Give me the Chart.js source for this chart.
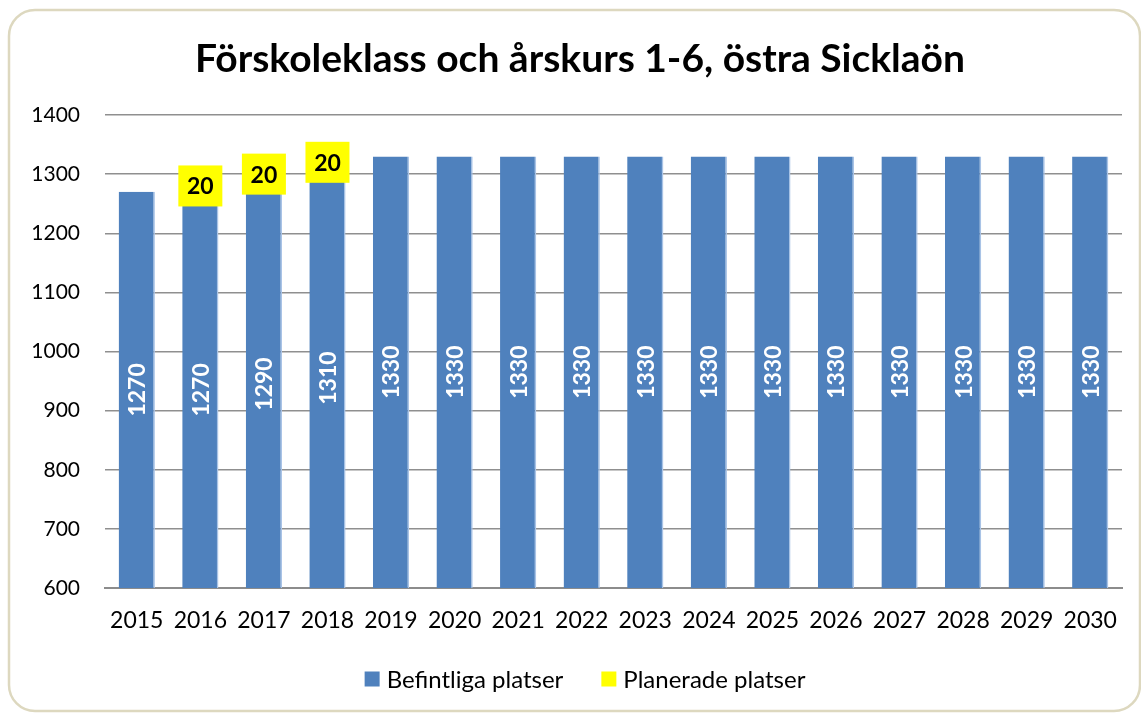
<!DOCTYPE html>
<html>
<head>
<meta charset="utf-8">
<script src="https://cdn.jsdelivr.net/npm/chart.js@4/dist/chart.umd.min.js"></script>
<style>
  html, body { margin: 0; padding: 0; background: #ffffff; }
  #wrap { width: 1141px; height: 713px; position: relative; }
</style>
</head>
<body>
<div id="wrap"><canvas id="c" width="1141" height="713"></canvas></div>
<script>
const years = ['2015','2016','2017','2018','2019','2020','2021','2022','2023','2024','2025','2026','2027','2028','2029','2030'];
const befintliga = [1270,1270,1290,1310,1330,1330,1330,1330,1330,1330,1330,1330,1330,1330,1330,1330];
const planerade = [null,20,20,20,null,null,null,null,null,null,null,null,null,null,null,null];
const titleText = 'Förskoleklass och årskurs 1-6, östra Sicklaön';
const seriesNames = ['Befintliga platser','Planerade platser'];
const seriesColors = ['#4f81bd','#ffff00'];

const FONT = 'Lato, "Open Sans", sans-serif';

const frame = {
  id: 'frame',
  beforeDraw(chart) {
    const ctx = chart.ctx;
    ctx.save();
    ctx.fillStyle = '#ffffff';
    ctx.fillRect(0, 0, chart.width, chart.height);
    ctx.strokeStyle = '#ddd8bf';
    ctx.lineWidth = 2.5;
    ctx.beginPath();
    ctx.roundRect(9, 10, 1131, 701, 26);
    ctx.stroke();
    ctx.restore();
  },
  afterDraw(chart) {
    const ctx = chart.ctx;
    ctx.save();
    // title
    ctx.font = 'bold 39px ' + FONT;
    ctx.fillStyle = '#000000';
    ctx.textAlign = 'center';
    ctx.textBaseline = 'middle';
    ctx.fillText(titleText, 580, 59);
    // legend
    ctx.font = '24px ' + FONT;
    ctx.textAlign = 'left';
    const box = 15, gapText = 7, gapItem = 38;
    const widths = seriesNames.map(n => ctx.measureText(n).width);
    let total = 0;
    widths.forEach((w, i) => { total += box + gapText + w + (i < widths.length - 1 ? gapItem : 0); });
    let x = 585 - total / 2;
    const cy = 679;
    seriesNames.forEach((n, i) => {
      ctx.fillStyle = seriesColors[i];
      ctx.fillRect(x, cy - box / 2, box, box);
      ctx.fillStyle = '#000000';
      ctx.fillText(n, x + box + gapText, cy + 1);
      x += box + gapText + widths[i] + gapItem;
    });
    ctx.restore();
  }
};

const valueLabels = {
  id: 'valueLabels',
  afterDatasetsDraw(chart) {
    const ctx = chart.ctx;
    const bottom = chart.chartArea.bottom;
    const m0 = chart.getDatasetMeta(0);
    m0.data.forEach((el, i) => {
      const v = befintliga[i];
      if (v == null) return;
      const cy = (el.y + Math.min(el.base, bottom)) / 2;
      ctx.save();
      ctx.translate(el.x, cy);
      ctx.rotate(-Math.PI / 2);
      ctx.font = 'bold 23px ' + FONT;
      ctx.fillStyle = '#ffffff';
      ctx.textAlign = 'center';
      ctx.textBaseline = 'middle';
      ctx.fillText(String(v), 0, 1);
      ctx.restore();
    });
    const m1 = chart.getDatasetMeta(1);
    m1.data.forEach((el, i) => {
      const v = planerade[i];
      if (!v) return;
      const cy = (el.y + el.base) / 2;
      ctx.save();
      ctx.fillStyle = '#ffff00';
      ctx.fillRect(el.x - 22, cy - 20.5, 44, 41);
      ctx.font = 'bold 23px ' + FONT;
      ctx.fillStyle = '#000000';
      ctx.textAlign = 'center';
      ctx.textBaseline = 'middle';
      ctx.fillText(String(v), el.x, cy + 1);
      ctx.restore();
    });
  }
};

new Chart(document.getElementById('c'), {
  type: 'bar',
  data: {
    labels: years,
    datasets: [
      {
        label: seriesNames[0],
        data: befintliga,
        backgroundColor: seriesColors[0],
        borderColor: '#a9c3e6',
        borderWidth: { left: 0, top: 0, bottom: 0, right: 1.5 },
        borderSkipped: false,
        barPercentage: 0.57,
        categoryPercentage: 1.0
      },
      {
        label: seriesNames[1],
        data: planerade,
        backgroundColor: seriesColors[1],
        borderWidth: 0,
        barPercentage: 0.57,
        categoryPercentage: 1.0
      }
    ]
  },
  options: {
    responsive: false,
    animation: false,
    devicePixelRatio: 1,
    layout: { padding: { left: 10, right: 19, top: 115, bottom: 75 } },
    plugins: {
      title: { display: false },
      legend: { display: false },
      tooltip: { enabled: false }
    },
    scales: {
      x: {
        stacked: true,
        grid: { display: false, drawTicks: false },
        border: { display: true, color: '#8c8c8c', width: 2 },
        ticks: { color: '#000000', font: { family: FONT, size: 23 }, padding: 19, maxRotation: 0, autoSkip: false },
        afterFit(scale) { scale.height = 50; }
      },
      y: {
        stacked: true,
        min: 600,
        max: 1400,
        grid: { color: '#8f8f8f', lineWidth: 1.5, drawTicks: false },
        border: { display: false },
        ticks: { stepSize: 100, color: '#000000', font: { family: FONT, size: 21 }, padding: 25,
                 callback: (v) => String(v) },
        afterFit(scale) { scale.width = 95; }
      }
    }
  },
  plugins: [frame, valueLabels]
});
</script>
</body>
</html>
